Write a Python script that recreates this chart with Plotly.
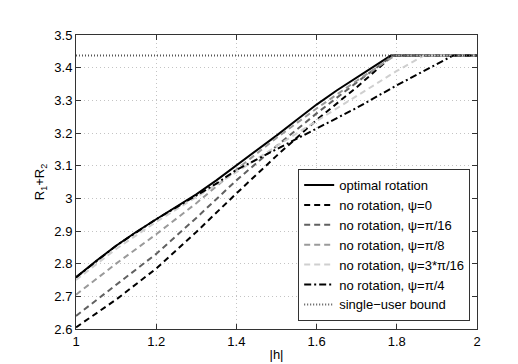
import plotly.graph_objects as go

# |h| sample points shared by the curves
h_opt = [1.0, 1.05, 1.1, 1.15, 1.2, 1.25, 1.3, 1.35, 1.4, 1.45, 1.5, 1.55, 1.6, 1.65, 1.7, 1.75, 1.785, 2.0]
r_opt = [2.758, 2.808, 2.855, 2.897, 2.936, 2.973, 3.012, 3.055, 3.100, 3.145, 3.192, 3.240, 3.287, 3.330, 3.370, 3.410, 3.437, 3.437]

h_psi0 = [1.0, 1.1, 1.2, 1.3, 1.4, 1.5, 1.6, 1.7, 1.79, 2.0]
r_psi0 = [2.605, 2.690, 2.785, 2.897, 3.015, 3.130, 3.240, 3.340, 3.437, 3.437]

h_psi16 = [1.0, 1.1, 1.2, 1.3, 1.4, 1.5, 1.6, 1.7, 1.79, 2.0]
r_psi16 = [2.640, 2.735, 2.830, 2.940, 3.055, 3.160, 3.260, 3.355, 3.437, 3.437]

h_psi8 = [1.0, 1.1, 1.2, 1.3, 1.4, 1.5, 1.6, 1.7, 1.795, 2.0]
r_psi8 = [2.705, 2.800, 2.890, 2.985, 3.088, 3.185, 3.275, 3.360, 3.437, 3.437]

h_psi3_16 = [1.0, 1.1, 1.2, 1.3, 1.4, 1.5, 1.6, 1.7, 1.8, 1.867, 2.0]
r_psi3_16 = [2.750, 2.845, 2.928, 3.005, 3.080, 3.160, 3.237, 3.312, 3.390, 3.437, 3.437]

h_psi4 = [1.0, 1.1, 1.2, 1.3, 1.35, 1.4, 1.5, 1.6, 1.7, 1.8, 1.94, 2.0]
r_psi4 = [2.758, 2.855, 2.936, 3.010, 3.045, 3.087, 3.150, 3.212, 3.277, 3.346, 3.437, 3.437]

h_bound = [1.0, 2.0]
r_bound = [3.437, 3.437]

x_ticks = [1, 1.2, 1.4, 1.6, 1.8, 2]
y_ticks = [2.6, 2.7, 2.8, 2.9, 3, 3.1, 3.2, 3.3, 3.4, 3.5]

FONT = "Liberation Sans"
FS = 13

fig = go.Figure()
fig.add_trace(go.Scatter(x=h_opt, y=r_opt, mode="lines", name="optimal rotation",
                         line=dict(color="black", width=2)))
fig.add_trace(go.Scatter(x=h_psi0, y=r_psi0, mode="lines", name="no rotation, \u03c8=0",
                         line=dict(color="black", width=2, dash="6px,4px")))
fig.add_trace(go.Scatter(x=h_psi16, y=r_psi16, mode="lines", name="no rotation, \u03c8=\u03c0/16",
                         line=dict(color="#606060", width=2, dash="6px,4px")))
fig.add_trace(go.Scatter(x=h_psi8, y=r_psi8, mode="lines", name="no rotation, \u03c8=\u03c0/8",
                         line=dict(color="#9a9a9a", width=2, dash="6px,4px")))
fig.add_trace(go.Scatter(x=h_psi3_16, y=r_psi3_16, mode="lines", name="no rotation, \u03c8=3*\u03c0/16",
                         line=dict(color="#cfcfcf", width=2, dash="6px,4px")))
fig.add_trace(go.Scatter(x=h_psi4, y=r_psi4, mode="lines", name="no rotation, \u03c8=\u03c0/4",
                         line=dict(color="black", width=2, dash="7px,3px,2px,3px")))
fig.add_trace(go.Scatter(x=h_bound, y=r_bound, mode="lines", name="single\u2212user bound",
                         line=dict(color="#555555", width=2, dash="1px,2px")))

axis_common = dict(
    showline=True, linecolor="#333333", linewidth=1, mirror="ticks",
    ticks="inside", ticklen=5, tickcolor="#333333",
    showgrid=True, gridcolor="#c4c4c4", griddash="1px,3px", gridwidth=1,
    zeroline=False, tickfont=dict(family=FONT, size=FS, color="black"),
)

fig.update_layout(
    width=518, height=364,
    margin=dict(l=68, r=49, t=27, b=41),
    paper_bgcolor="white", plot_bgcolor="white",
    font=dict(family=FONT, size=FS, color="black"),
    xaxis=dict(range=[1, 2], tickvals=x_ticks,
               title=dict(text="|h|", font=dict(family=FONT, size=FS), standoff=2),
               **axis_common),
    yaxis=dict(range=[2.6, 3.5], tickvals=y_ticks,
               title=dict(text="R<sub>1</sub>+R<sub>2</sub>", font=dict(family=FONT, size=FS), standoff=6),
               **axis_common),
    legend=dict(x=0.983, y=0.027, xanchor="right", yanchor="bottom",
                bgcolor="white", bordercolor="#333333", borderwidth=1,
                font=dict(family=FONT, size=FS), itemwidth=30,
                tracegroupgap=0),
    showlegend=True,
)

fig.write_html("out.html")
